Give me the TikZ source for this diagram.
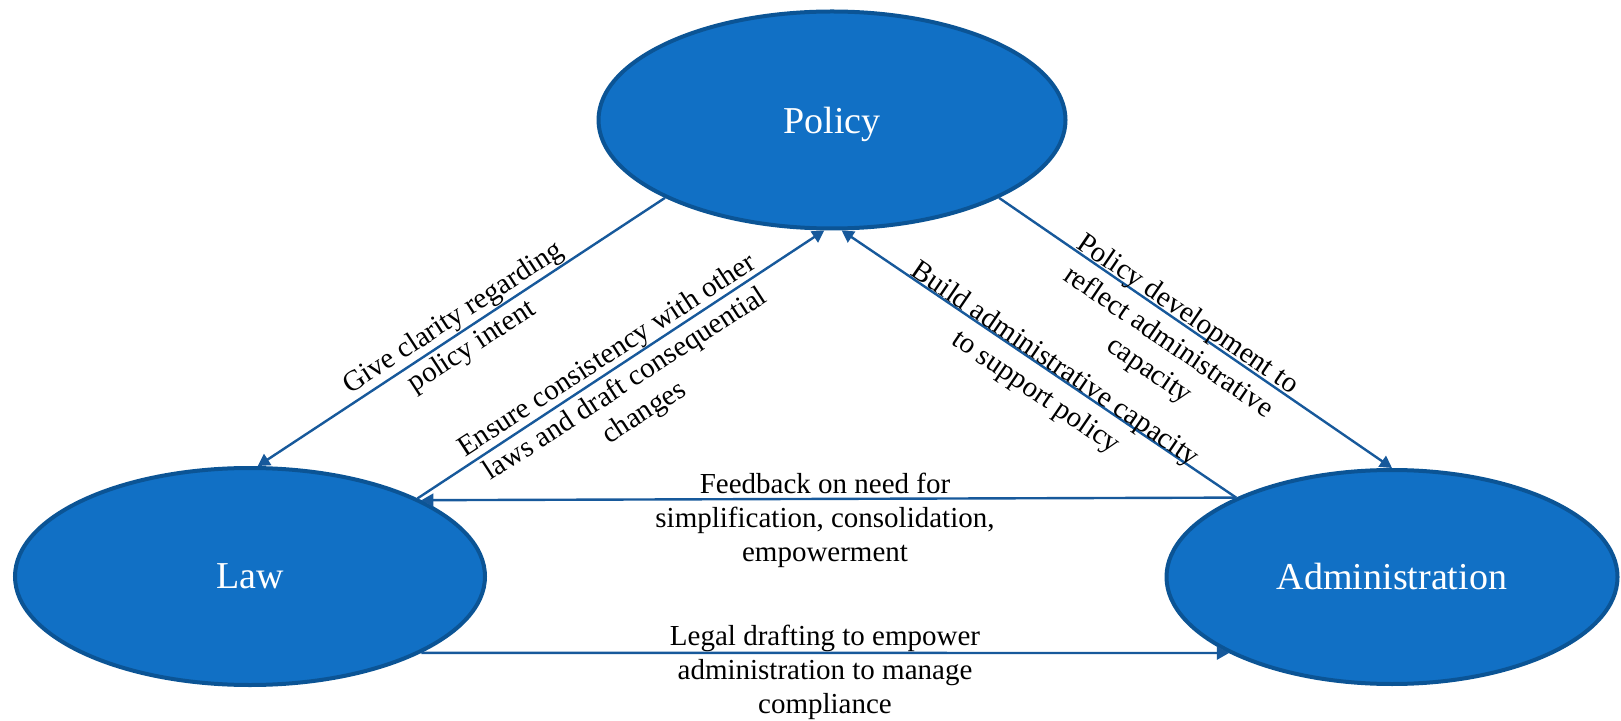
\documentclass[tikz,border=0pt]{standalone}
\usepackage{fontspec}
\setmainfont{Liberation Serif}
\usetikzlibrary{arrows.meta,shapes.geometric}
\definecolor{fillblue}{HTML}{1170C5}
\definecolor{edgeblue}{HTML}{0B5495}
\definecolor{lineblue}{HTML}{17599B}
\begin{document}
\begin{tikzpicture}[x=0.5pt,y=-0.5pt,
  blob/.style={ellipse, draw=edgeblue, line width=2pt, fill=fillblue, text=white, font=\fontsize{19}{22}\selectfont, inner sep=0pt},
  conn/.style={draw=lineblue, line width=1.2pt, -{Triangle[length=6pt,width=6.5pt]}},
  lbl/.style={font=\fontsize{14.5}{17}\selectfont, align=center, inner sep=0pt}]
\useasboundingbox (0,0) rectangle (1621,721);
\node[blob, minimum width=233.5pt, minimum height=108.5pt, text depth=0pt] (P) at (832,120) {Policy};
\node[blob, minimum width=235pt, minimum height=108.5pt] (L) at (250,576.5) {Law};
\node[blob, minimum width=225.5pt, minimum height=107pt] (A) at (1392,577) {Administration};
\draw[conn] (P.205) -- (L.86);
\draw[conn] (L.25) -- (P.266);
\draw[conn] (P.-25) -- (A.90);
\draw[conn] (A.153) -- (P.-85);
\draw[conn] (A.153) -- (L.24);
\draw[conn] (L.-24) -- (A.205);
\node[lbl, rotate=33] (t1) at (463,333) {Give clarity regarding\\policy intent};
\node[lbl, rotate=33] (t2) at (626,385) {Ensure consistency with other\\laws and draft consequential\\changes};
\node[lbl, rotate=-34.3] (t3) at (1168,343) {Policy development to\\reflect administrative\\capacity};
\node[lbl, rotate=-34.3] (t4) at (1045,379) {Build administrative capacity\\to support policy};
\node[lbl] (t5) at (825,520) {Feedback on need for\\simplification, consolidation,\\empowerment};
\node[lbl] (t6) at (825,672) {Legal drafting to empower\\administration to manage\\compliance};
\end{tikzpicture}
\end{document}
